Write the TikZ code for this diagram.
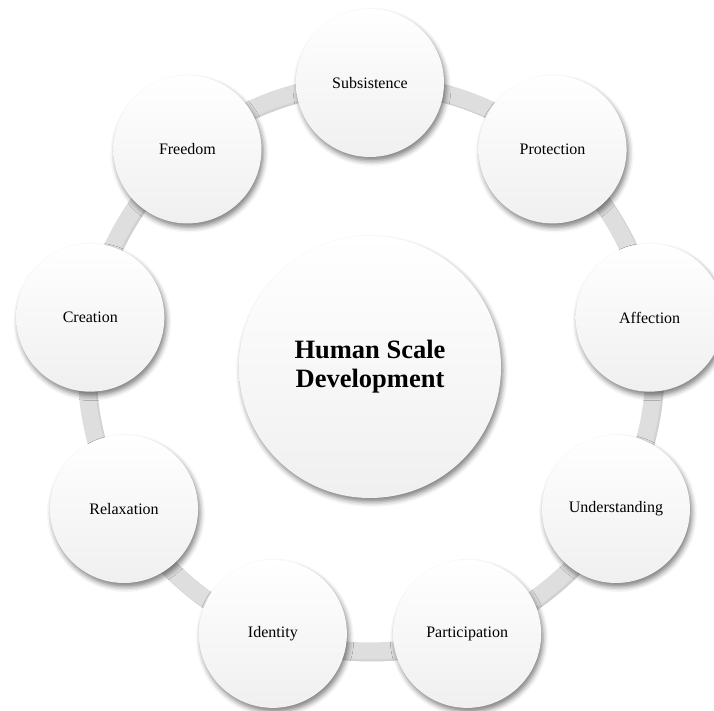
\documentclass[tikz,border=0pt]{standalone}
\usepackage{fontspec}
\setmainfont{Liberation Serif}
\usepackage{tikz}
\usetikzlibrary{calc, shadows.blur}

\begin{document}
\begin{tikzpicture}[
  x=1pt, y=1pt,
  need/.style={circle, inner sep=0pt, minimum size=148pt, top color=white, middle color=white, bottom color=gray!12,
    blur shadow={shadow xshift=2pt, shadow yshift=-4pt, shadow blur radius=5pt, shadow opacity=50},
    font=\fontsize{16}{19}\selectfont},
  hub/.style={need, minimum size=262pt, align=center, font=\fontsize{26.5}{29}\selectfont\bfseries},
  ring/.style={line width=17pt, draw=gray!26},
]
  \useasboundingbox (0,0) rectangle (714,711);
  \coordinate (c) at (370,344);

  % band behind the circles
  \draw[line width=18pt, draw=gray!36] ([shift={(1.5,-1.5)}]c) circle (284);
  \draw[ring] (c) circle (284);

  \node[hub] (hsd) at (c) {Human Scale\\Development};

  \foreach \ang/\name/\txt in {90/subs/Subsistence, 50/prot/Protection, 10/affe/Affection,
      -30/unde/Understanding, -70/part/Participation, -110/iden/Identity,
      -150/rela/Relaxation, 170/crea/Creation, 130/free/Freedom}
    \node[need] (\name) at ($(c)+(\ang:284)$) {\txt};
\end{tikzpicture}
\end{document}
